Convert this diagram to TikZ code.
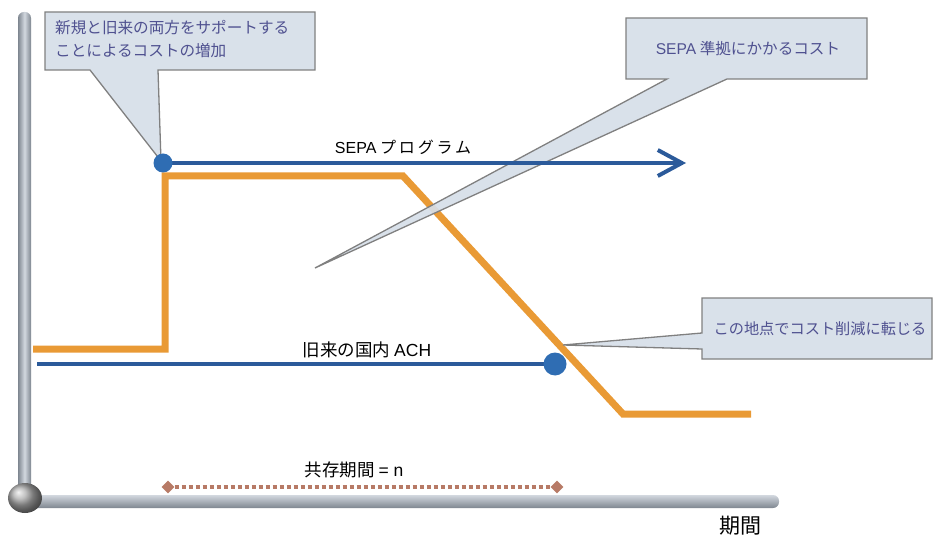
\documentclass[tikz,border=0pt]{standalone}
\usepackage{fontspec}
\setmainfont{Noto Sans CJK JP}
\newfontfamily\lat{Liberation Sans}
\newfontfamily\jpwide[LetterSpace=18]{Noto Sans CJK JP}
\usetikzlibrary{arrows.meta,shapes.geometric}
\definecolor{orangeL}{HTML}{E99A35}
\definecolor{blueL}{HTML}{2B5A9A}
\definecolor{blueDot}{HTML}{2F6DB3}
\definecolor{callFill}{HTML}{D6DEE8}
\definecolor{callDraw}{HTML}{808080}
\definecolor{callText}{HTML}{4F5190}
\definecolor{brownL}{HTML}{B77A66}
\definecolor{axisD}{HTML}{7E8690}
\definecolor{axisL}{HTML}{D3D8DF}
\tikzset{
  orangeline/.style={draw=orangeL,line width=7pt,line join=miter},
  blueline/.style={draw=blueL,line width=4pt},
  bluedot/.style={circle,fill=blueDot,inner sep=0pt,minimum size=#1},
  callout/.style={fill=callFill,draw=callDraw,line width=1.3pt,fill opacity=0.92,line join=miter},
  calltext/.style={text=callText,font=\fontsize{15.6}{23}\selectfont,inner sep=0pt},
  lbl/.style={text=black,inner sep=0pt},
  diam/.style={diamond,fill=brownL,inner sep=0pt,minimum size=13pt},
  coexline/.style={draw=brownL,line width=4pt,dash pattern=on 4pt off 3pt}
}
\begin{document}
\begin{tikzpicture}[x=1pt,y=-1pt]
\useasboundingbox (0,0) rectangle (934,537);
% axes
\shade[left color=axisD,right color=axisD,middle color=axisL,rounded corners=6pt] (18,12) rectangle (31,496);
\shade[top color=axisL,bottom color=axisD,rounded corners=6pt] (22,495) rectangle (779,508);
\shade[ball color=gray!65] (25,498) ellipse [x radius=17pt,y radius=15pt];
% orange cost line
\coordinate (o1) at (33,349);
\coordinate (o2) at (165,349);
\coordinate (o3) at (165,176);
\coordinate (o4) at (403,176);
\coordinate (o5) at (623,414);
\coordinate (o6) at (751,414);
\draw[orangeline] (o1) -- (o2) -- (o3) -- (o4) -- (o5) -- (o6);
% callouts
\draw[callout] (45,12) -- (315,12) -- (315,70) -- (158,70) -- (161,161) -- (90,70) -- (45,70) -- cycle;
\node[calltext,anchor=north west,align=left] (c1) at (55,20) {新規と旧来の両方をサポートする\\ことによるコストの増加};
\draw[callout] (626,18) -- (867,18) -- (867,79) -- (727,79) -- (315,268) -- (667,79) -- (626,79) -- cycle;
\node[calltext] (c2) at (748,49) {{\lat SEPA} 準拠にかかるコスト};
\draw[callout] (702,298) -- (932,298) -- (932,359) -- (702,359) -- (702,349) -- (563,345) -- (702,333) -- cycle;
\node[calltext,font=\fontsize{15.2}{23}\selectfont] (c3) at (820,329) {この地点でコスト削減に転じる};
% SEPA programme
\coordinate (sepaS) at (163,163);
\coordinate (sepaE) at (686,163);
\draw[blueline,-{Straight Barb[length=24pt,width=26pt,line width=4pt]}] (sepaS) -- (sepaE);
\node[bluedot=19pt] (dotSepa) at (sepaS) {};
\node[lbl,font=\fontsize{16}{18}\selectfont] (sepaLbl) at (403,147) {{\lat SEPA} {\jpwide プログラム}};
% legacy ACH
\coordinate (achS) at (37,364);
\coordinate (achE) at (555,364);
\draw[blueline] (achS) -- (achE);
\node[bluedot=23pt] (dotAch) at (achE) {};
\node[lbl,font=\fontsize{17.5}{20}\selectfont] (achLbl) at (367,350) {旧来の国内 {\lat ACH}};
% coexistence
\node[diam] (dL) at (168,487) {};
\node[diam] (dR) at (557,487) {};
\draw[coexline] (dL) -- (dR);
\node[lbl,font=\fontsize{17.5}{20}\selectfont] (coexLbl) at (354,470) {共存期間 {\lat = n}};
\node[lbl,font=\fontsize{21}{24}\selectfont] (period) at (740,526) {期間};
\end{tikzpicture}
\end{document}
